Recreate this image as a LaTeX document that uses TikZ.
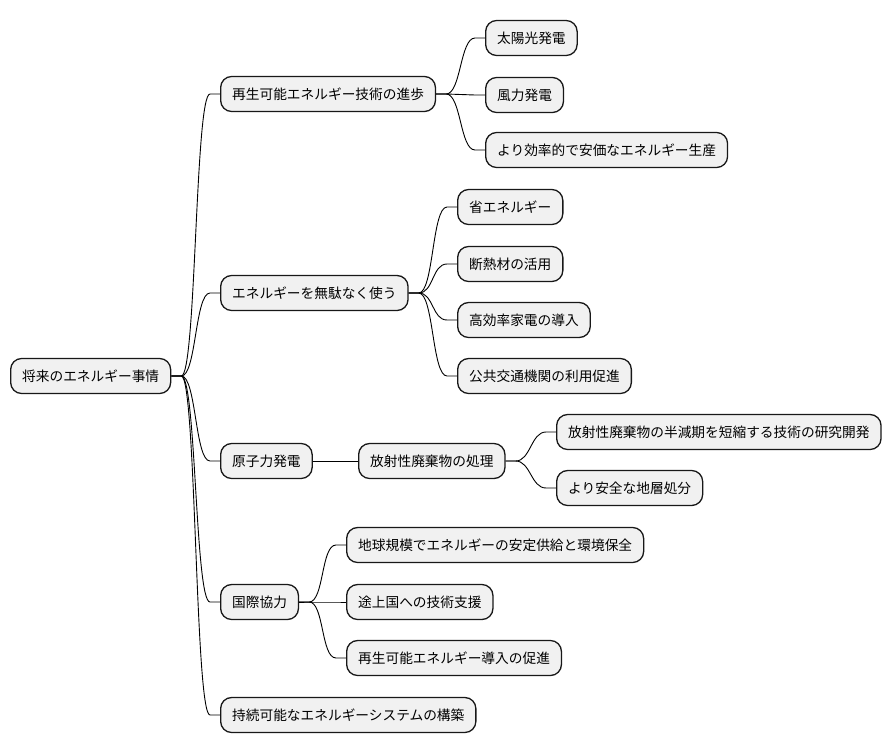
\documentclass[tikz,border=0pt]{standalone}
\usepackage{fontspec}
\setmainfont{Noto Sans CJK JP}
\usetikzlibrary{calc}
\definecolor{boxfill}{HTML}{F1F1F1}
\definecolor{boxline}{HTML}{181818}
\tikzset{
  mmbox/.style={draw=boxline, fill=boxfill, line width=1.3pt, rounded corners=11pt,
    anchor=west, minimum height=35pt, inner xsep=11.5pt, inner ysep=0pt,
    font=\fontsize{13.7pt}{16pt}\selectfont, text=black},
  mmline/.style={draw=black, line width=0.9pt}
}
\newcommand{\mmlink}[2]{%
  \draw[mmline] (#1.east) -- ++(10pt,0)
    .. controls ($(#1.east)+(25pt,0)$) and ($(#2.west)+(-25pt,0)$) ..
    ($(#2.west)+(-10pt,0)$) -- (#2.west);}
\begin{document}
\begin{tikzpicture}[x=1pt,y=-1pt]
\useasboundingbox (0,0) rectangle (894,752);
\node[mmbox] (root) at (10,376) {将来のエネルギー事情};
\node[mmbox] (a1) at (220,94) {再生可能エネルギー技術の進歩};
\node[mmbox] (a2) at (220,293) {エネルギーを無駄なく使う};
\node[mmbox] (a3) at (220,461) {原子力発電};
\node[mmbox] (a4) at (220,602) {国際協力};
\node[mmbox] (a5) at (220,715) {持続可能なエネルギーシステムの構築};
\node[mmbox] (b11) at (485,38) {太陽光発電};
\node[mmbox] (b12) at (485,95) {風力発電};
\node[mmbox] (b13) at (485,150) {より効率的で安価なエネルギー生産};
\node[mmbox] (b21) at (457,207) {省エネルギー};
\node[mmbox] (b22) at (457,264) {断熱材の活用};
\node[mmbox] (b23) at (457,320) {高効率家電の導入};
\node[mmbox] (b24) at (457,376) {公共交通機関の利用促進};
\node[mmbox] (b31) at (358,461) {放射性廃棄物の処理};
\node[mmbox] (c311) at (556,432) {放射性廃棄物の半減期を短縮する技術の研究開発};
\node[mmbox] (c312) at (556,488) {より安全な地層処分};
\node[mmbox] (b41) at (346,545) {地球規模でエネルギーの安定供給と環境保全};
\node[mmbox] (b42) at (346,602) {途上国への技術支援};
\node[mmbox] (b43) at (346,658) {再生可能エネルギー導入の促進};
\mmlink{root}{a1}
\mmlink{root}{a2}
\mmlink{root}{a3}
\mmlink{root}{a4}
\mmlink{root}{a5}
\mmlink{a1}{b11}
\mmlink{a1}{b12}
\mmlink{a1}{b13}
\mmlink{a2}{b21}
\mmlink{a2}{b22}
\mmlink{a2}{b23}
\mmlink{a2}{b24}
\draw[mmline] (a3.east) -- (b31.west);
\mmlink{b31}{c311}
\mmlink{b31}{c312}
\mmlink{a4}{b41}
\mmlink{a4}{b42}
\mmlink{a4}{b43}
\end{tikzpicture}
\end{document}
